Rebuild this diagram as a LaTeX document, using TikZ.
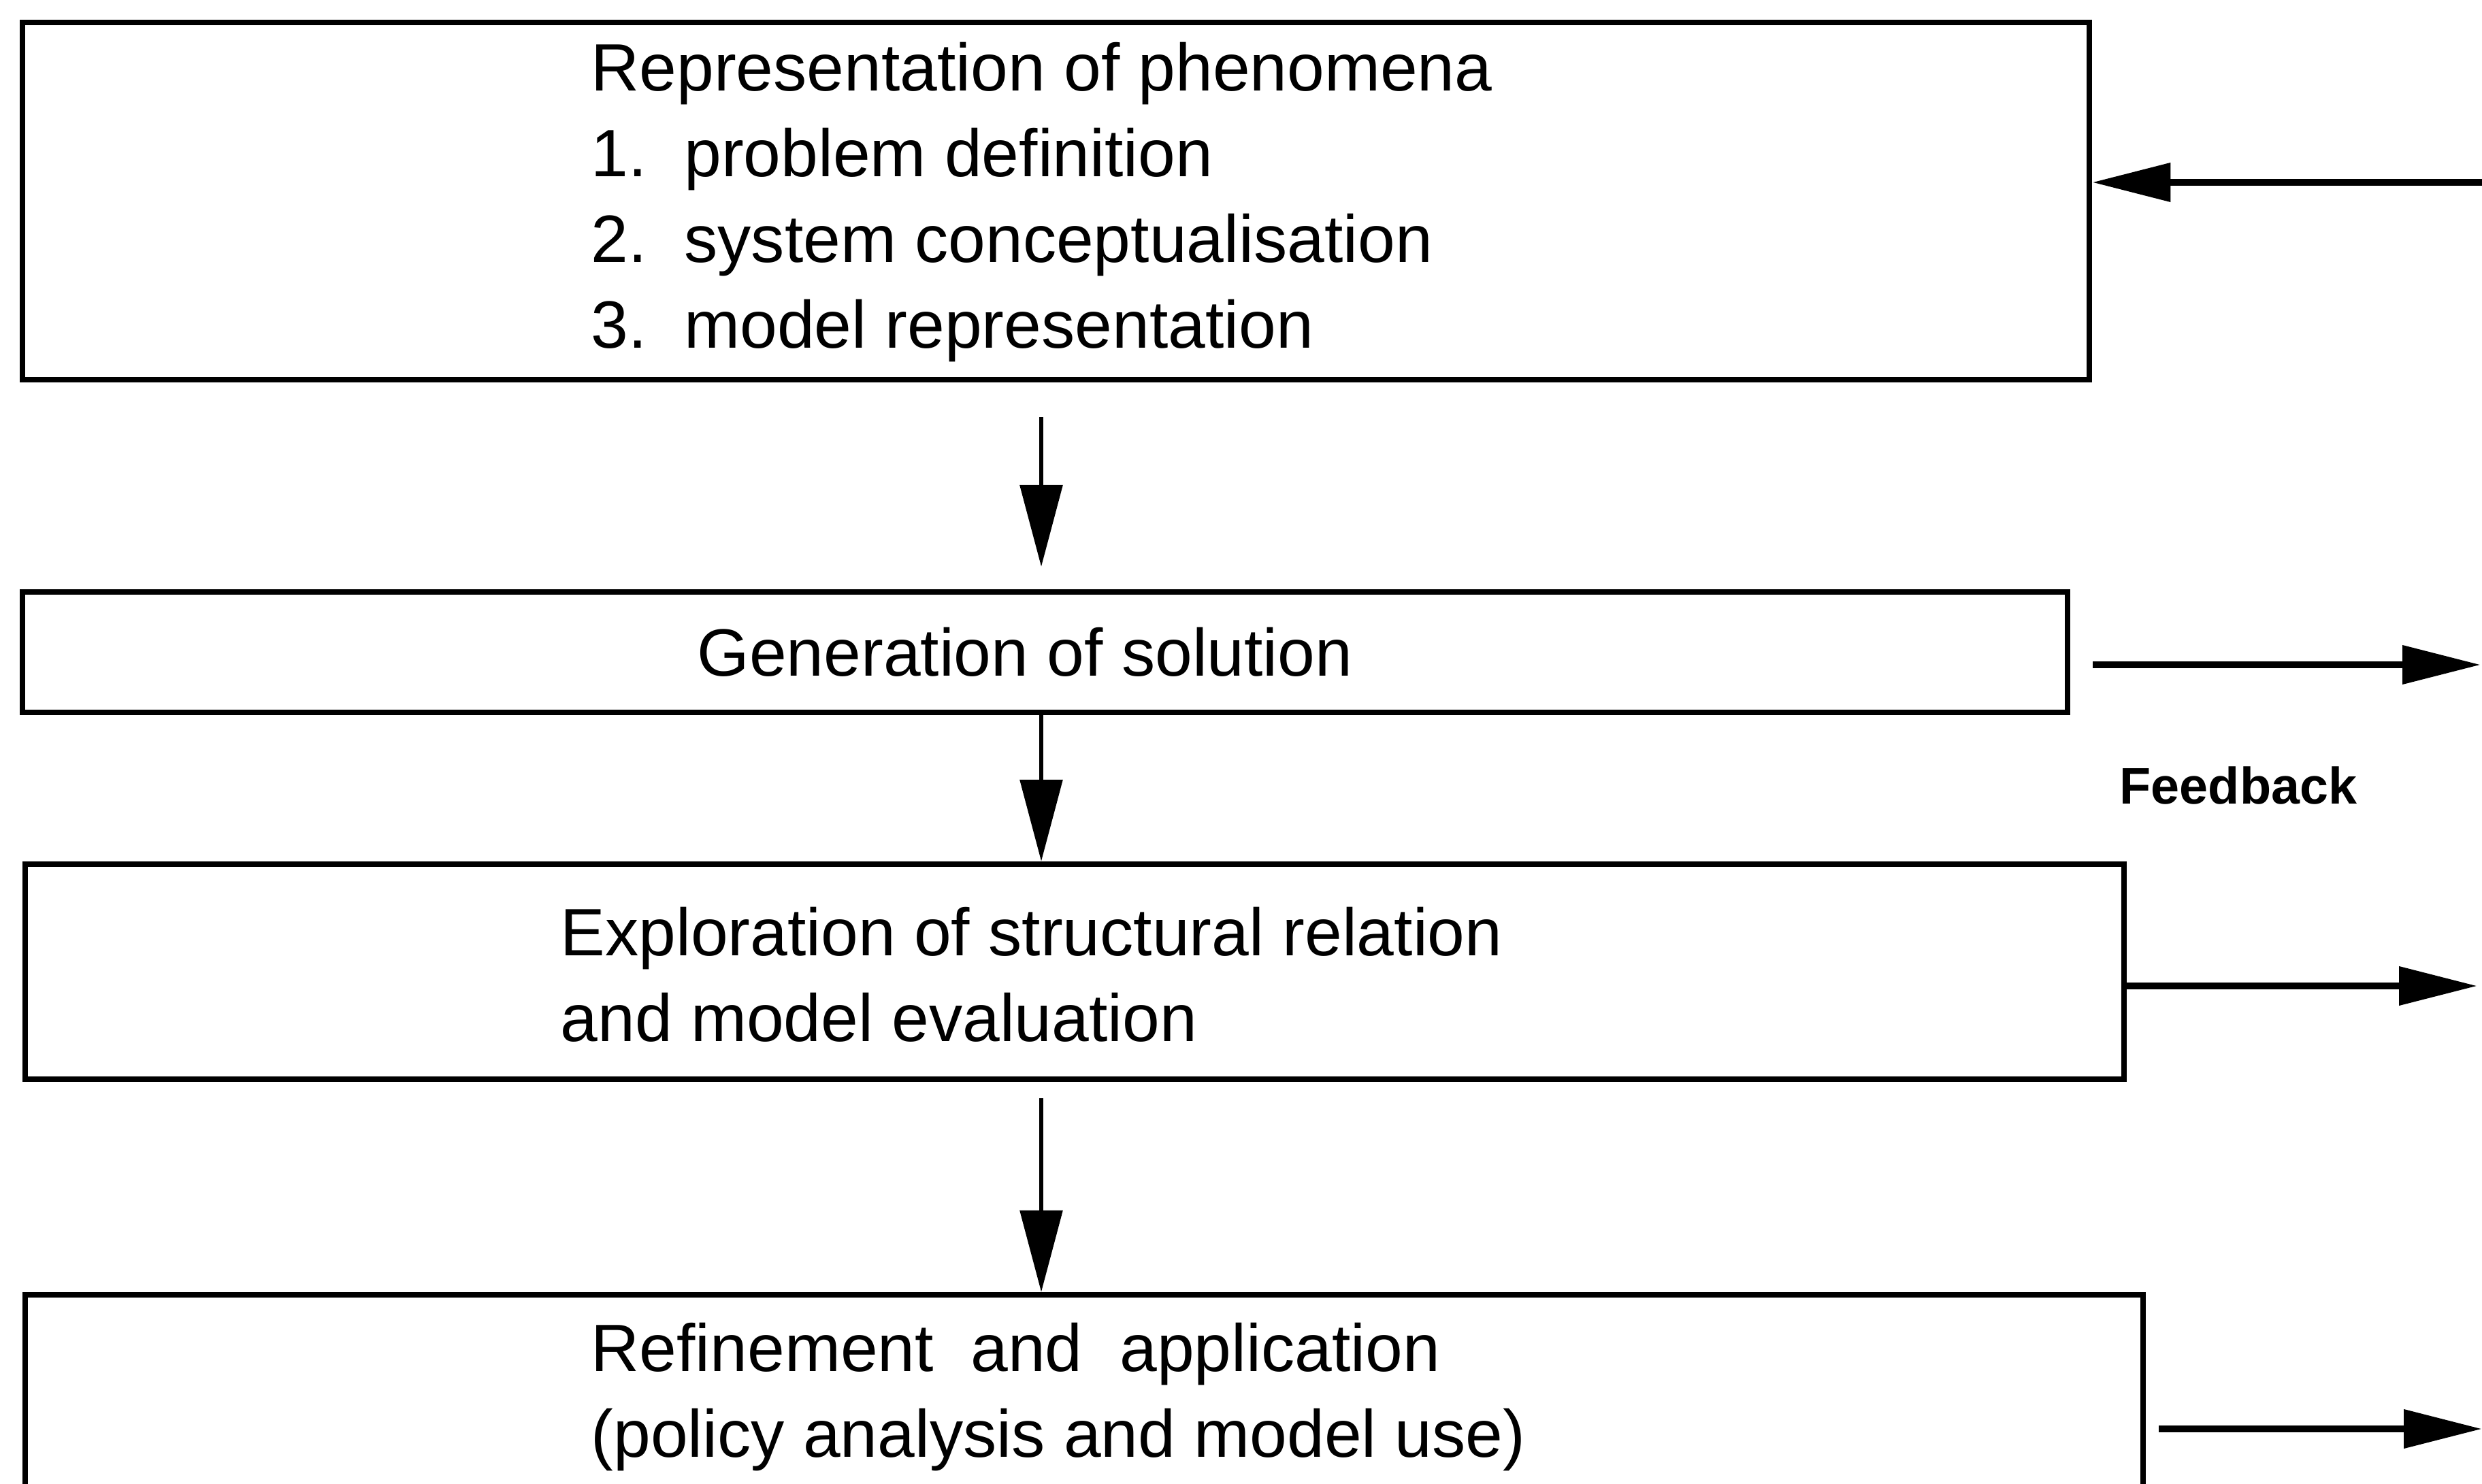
\documentclass[tikz,border=0pt]{standalone}
\usepackage{fontspec}
\setmainfont{Liberation Sans}
\usetikzlibrary{arrows.meta}
\begin{document}
\begin{tikzpicture}[
  box/.style={draw=black, line width=2.4pt, inner sep=0pt, rectangle},
  txt/.style={inner sep=0pt, align=left, font=\fontsize{28}{35.8}\selectfont},
  harrow/.style={line width=3pt, -{Triangle[length=1.15cm,width=0.55cm]}},
  varrow/.style={line width=1.7pt, -{Triangle[length=1.2cm,width=0.62cm]}},
]
\useasboundingbox (0,0) rectangle (36.47,-21.80);
\clip (0,0) rectangle (36.47,-21.80);
% boxes
\node[box, minimum width=30.37cm, minimum height=5.25cm] (b1) at (15.515,-2.955) {};
\node[box, minimum width=30.05cm, minimum height=1.77cm] (b2) at (15.355,-9.585) {};
\node[box, minimum width=30.84cm, minimum height=3.16cm] (b3) at (15.79,-14.28) {};
\node[box, minimum width=31.12cm, minimum height=3.60cm] (b4) at (15.93,-20.83) {};
% texts
\node[txt, anchor=west] (t1) at (8.68,-2.97) {Representation of phenomena\\1.\ \ problem definition\\2.\ \ system conceptualisation\\3.\ \ model representation};
\node[txt] (t2) at (15.06,-9.58) {Generation of solution};
\node[txt, anchor=west] (t3) at (8.23,-14.32) {Exploration of structural relation\\and model evaluation};
\node[txt, anchor=west] (t4) at (8.68,-20.53) {Refinement~~and~~application\\(policy analysis and model use)};
\node[inner sep=0pt, font=\fontsize{21.5}{25}\selectfont\bfseries] (fb) at (32.89,-11.54) {Feedback};
% column for vertical arrows and free ends
\coordinate (ax) at (15.30,0);
\coordinate (in1) at (36.47,-2.68);
\coordinate (out2) at (36.45,-9.77);
\coordinate (out3) at (36.40,-14.49);
\coordinate (out4) at (36.47,-21.00);
% vertical arrows
\draw[varrow, shorten <=0.51cm, shorten >=0.33cm] (b1.south -| ax) -- (b2.north -| ax);
\draw[varrow] (b2.south -| ax) -- (b3.north -| ax);
\draw[varrow, shorten <=0.24cm] (b3.south -| ax) -- (b4.north -| ax);
% feedback arrows
\draw[harrow] (in1) -- (in1 -| b1.east);
\draw[harrow, shorten <=0.33cm] (out2 -| b2.east) -- (out2);
\draw[harrow] (out3 -| b3.east) -- (out3);
\draw[harrow, shorten <=0.19cm] (out4 -| b4.east) -- (out4);
\end{tikzpicture}
\end{document}
